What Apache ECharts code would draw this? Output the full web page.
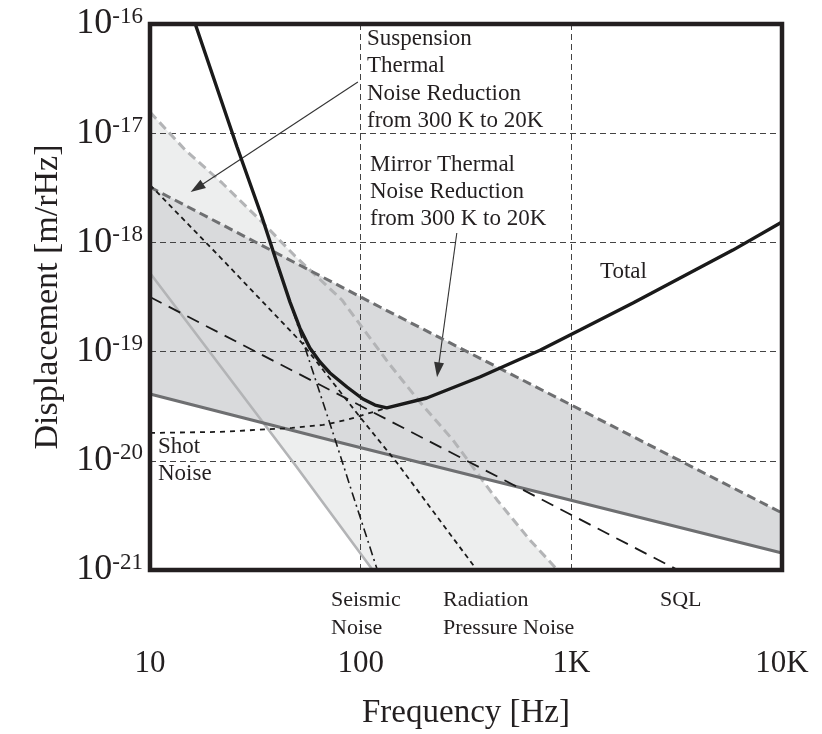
<!DOCTYPE html>
<html>
<head>
<meta charset="utf-8">
<script src="https://cdn.jsdelivr.net/npm/echarts@6/dist/echarts.min.js"></script>
<style>
html, body { margin: 0; padding: 0; background: #fff; }
#chart { width: 822px; height: 734px; }
</style>
</head>
<body>
<div id="chart"></div>
<script>
// tick labels
var xTickLabels = ['10', '100', '1K', '10K'];
var yTickPowers = ['-21', '-20', '-19', '-18', '-17', '-16'];

// curves, [frequency Hz, displacement m/rHz]
var total = [[16.4, 1.0e-16], [25.9, 7.48e-18], [34.0, 1.71e-18], [40.5, 6.08e-19], [46.2, 2.84e-19], [51.5, 1.64e-19],
  [57.4, 1.08e-19], [64.1, 8.03e-20], [71.5, 6.37e-20], [86.1, 4.74e-20], [102.5, 3.68e-20], [117, 3.24e-20],
  [133, 3.05e-20], [206, 3.76e-20], [368, 5.85e-20], [710, 1.03e-19], [1099, 1.58e-19], [1961, 2.79e-19],
  [5848, 8.5e-19], [10000, 1.54e-18]];
var seismic = [[16.4, 1.0e-16], [25.9, 7.48e-18], [34.0, 1.71e-18], [40.5, 5.96e-19], [48.8, 2.07e-19],
  [59.4, 6.5e-20], [73.9, 1.8e-20], [90.9, 5.18e-21], [120, 1.0e-21]];
var radiation = [[10, 3.36e-18], [21.5, 7.34e-19], [52.6, 1.2e-19], [99.2, 2.52e-20], [149, 9.55e-21], [213, 3.78e-21], [356, 1.0e-21]];
var sql = [[10, 3.16e-19], [206, 1.55e-20], [3200, 1.0e-21]];
var shot = [[10, 1.8e-20], [21.5, 1.84e-20], [47.2, 2.0e-20], [66.2, 2.13e-20], [86.1, 2.37e-20], [107, 2.69e-20], [133, 3.05e-20]];
var mirror300 = [[10, 3.21e-18], [123.5, 2.56e-19], [10000, 3.33e-21]];
var mirror20 = [[10, 4.09e-20], [71.5, 1.55e-20], [10000, 1.43e-21]];
var susp300 = [[10, 1.56e-17], [14.7, 7.02e-18], [22.0, 3.5e-18], [34.0, 1.54e-18], [48.8, 7.5e-19], [81.5, 2.97e-19],
  [138, 7.53e-20], [191, 3.45e-20], [274, 1.55e-20], [444, 4.38e-21], [636, 1.88e-21], [860, 1.0e-21]];
var susp20 = [[10, 5.25e-19], [48.8, 9.2e-21], [114, 1.0e-21]];

// annotation arrows [from, to]
var arrows = [
  [[97, 2.94e-17], [16.7, 3.15e-18]],
  [[286, 1.22e-18], [233, 6.8e-20]]
];

// the log axis misbehaves with min 1e-21, so plot in units of 1e-21 m/rHz
var UNIT = 1e21;
function su(arr) { return arr.map(function (p) { return [p[0], p[1] * UNIT]; }); }

var serif = '"Liberation Serif", "DejaVu Serif", serif';
var ink = '#231f20';

function band(upper, lower, color) {
  var up = su(upper), lo = su(lower);
  return {
    type: 'custom', silent: true, z: 1, clip: true,
    data: [up[0]],
    renderItem: function (params, api) {
      var pts = up.concat(lo.slice().reverse()).map(function (p) { return api.coord(p); });
      return { type: 'polygon', shape: { points: pts }, style: { fill: color } };
    }
  };
}

function curve(data, color, width, dash, z) {
  return {
    type: 'line', data: su(data), symbol: 'none', silent: true, z: z || 4,
    lineStyle: { color: color, width: width, type: dash }
  };
}

var chart = echarts.init(document.getElementById('chart'));

var totalSeries = curve(total, '#1a1a1a', 3.4, 'solid', 8);
totalSeries.markLine = {
  silent: true,
  symbol: ['none', 'triangle'],
  symbolSize: [10, 15],
  label: { show: false },
  lineStyle: { color: '#333', width: 1.1, type: 'solid' },
  itemStyle: { color: '#333' },
  data: arrows.map(function (a) { var s = su(a); return [{ coord: s[0] }, { coord: s[1] }]; })
};

var option = {
  animation: false,
  grid: { left: 150, top: 24, right: 40, bottom: 164, show: true, z: 10, containLabel: false, outerBoundsMode: 'none',
    borderColor: ink, borderWidth: 4.5, backgroundColor: 'transparent' },
  xAxis: {
    type: 'log', min: 10, max: 10000, logBase: 10, z: 3,
    axisLine: { show: false }, axisTick: { show: false },
    axisLabel: {
      margin: 78, fontFamily: serif, fontSize: 31, color: ink,
      formatter: function (v) { return xTickLabels[Math.round(Math.log10(v)) - 1] || ''; }
    },
    splitLine: { show: true, lineStyle: { color: '#444', width: 1, type: [6, 4] } },
    name: 'Frequency [Hz]', nameLocation: 'middle', nameGap: 127,
    nameTextStyle: { fontFamily: serif, fontSize: 33, color: ink }
  },
  yAxis: {
    type: 'log', min: 1, max: 100000, logBase: 10, z: 3,
    axisLine: { show: false }, axisTick: { show: false },
    axisLabel: {
      margin: 7, color: ink,
      formatter: function (v) { return '{b|10}{s|' + yTickPowers[Math.round(Math.log10(v))] + '}'; },
      rich: {
        b: { fontFamily: serif, fontSize: 36, color: ink, lineHeight: 38 },
        s: { fontFamily: serif, fontSize: 23, color: ink, verticalAlign: 'top', lineHeight: 22 }
      }
    },
    splitLine: { show: true, lineStyle: { color: '#444', width: 1, type: [6, 4] } },
    name: 'Displacement [m/rHz]', nameLocation: 'middle', nameGap: 84,
    nameTextStyle: { fontFamily: serif, fontSize: 34, color: ink }
  },
  graphic: [
    { type: 'text', left: 367, top: 25, z: 20, style: { text: 'Suspension\nThermal\nNoise Reduction\nfrom 300 K to 20K', fontFamily: serif, fontSize: 23, lineHeight: 27.5, fill: ink } },
    { type: 'text', left: 370, top: 151, z: 20, style: { text: 'Mirror Thermal\nNoise Reduction\nfrom 300 K to 20K', fontFamily: serif, fontSize: 23, lineHeight: 27, fill: ink } },
    { type: 'text', left: 600, top: 260, z: 20, style: { text: 'Total', fontFamily: serif, fontSize: 23, fill: ink } },
    { type: 'text', left: 158, top: 433, z: 20, style: { text: 'Shot\nNoise', fontFamily: serif, fontSize: 23, lineHeight: 27, fill: ink } },
    { type: 'text', left: 331, top: 586, z: 20, style: { text: 'Seismic\nNoise', fontFamily: serif, fontSize: 22, lineHeight: 28, fill: ink } },
    { type: 'text', left: 443, top: 586, z: 20, style: { text: 'Radiation\nPressure Noise', fontFamily: serif, fontSize: 22, lineHeight: 28, fill: ink } },
    { type: 'text', left: 660, top: 586, z: 20, style: { text: 'SQL', fontFamily: serif, fontSize: 22, lineHeight: 28, fill: ink } }
  ],
  series: [
    band(susp300, susp20, '#edeeee'),
    band(mirror300, mirror20, '#d9dadc'),
    curve(susp20, '#b3b4b6', 2.6, 'solid', 4),
    curve(susp300, '#b3b4b6', 3, [9, 5], 4),
    curve(mirror20, '#6e6f71', 3, 'solid', 5),
    curve(mirror300, '#6e6f71', 3, [9, 5], 5),
    curve(sql, '#1a1a1a', 1.8, [13, 8], 6),
    curve(radiation, '#1a1a1a', 1.8, [5, 4], 6),
    curve(shot, '#1a1a1a', 1.8, [5, 5], 6),
    curve(seismic, '#1a1a1a', 1.6, [9, 4, 2, 4], 6),
    totalSeries
  ]
};

chart.setOption(option);
</script>
</body>
</html>
